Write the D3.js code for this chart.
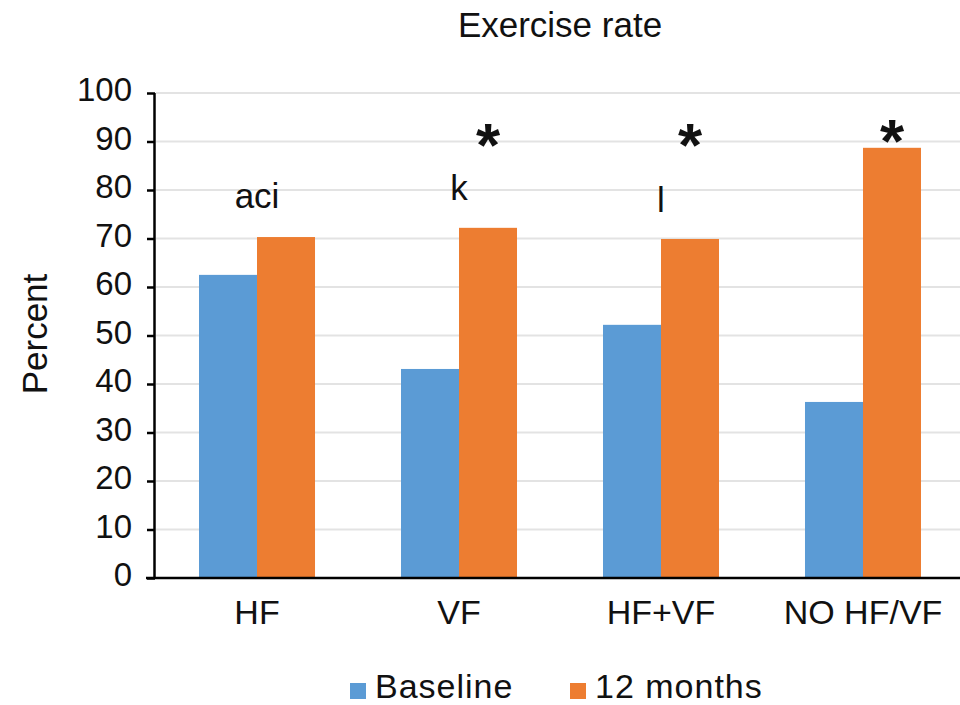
<!DOCTYPE html>
<html>
<head>
<meta charset="utf-8">
<script src="https://cdn.jsdelivr.net/npm/d3@7"></script>
<style>
  html, body { margin: 0; padding: 0; background: #fff; }
  svg { display: block; font-family: "Liberation Sans", Arial, sans-serif; }
</style>
</head>
<body>
<svg id="chart" width="960" height="705"></svg>
<script>
const categories = ["HF", "VF", "HF+VF", "NO HF/VF"];
const seriesNames = ["Baseline", "12 months"];
const baselineValues = [62.5, 43.1, 52.2, 36.3];
const monthsValues = [70.3, 72.2, 69.9, 88.7];
const yTicks = [0, 10, 20, 30, 40, 50, 60, 70, 80, 90, 100];
const letterNotes = [["HF", "aci"], ["VF", "k"], ["HF+VF", "l"]];
const starNotes = ["VF", "HF+VF", "NO HF/VF"];
const colors = ["#5b9bd5", "#ed7d31"];

const svg = d3.select("#chart");
const y = d3.scaleLinear().domain([0, 100]).range([578, 93]);
const x = d3.scaleBand().domain(categories).range([156, 964])
  .paddingInner(0.4257).paddingOuter(0.2129);
const x1 = d3.scaleBand().domain(seriesNames).range([0, x.bandwidth()]).padding(0);

const rows = categories.map((c, i) => ({cat: c, vals: [baselineValues[i], monthsValues[i]]}));

// gridlines
svg.append("g").selectAll("line").data(yTicks.filter(t => t > 0)).join("line")
  .attr("x1", 156).attr("x2", 960)
  .attr("y1", d => y(d)).attr("y2", d => y(d))
  .attr("stroke", "#e3e3e3").attr("stroke-width", 2);

// bars
svg.append("g").selectAll("g").data(rows).join("g")
  .attr("transform", d => `translate(${x(d.cat)},0)`)
  .selectAll("rect").data(d => d.vals.map((v, j) => ({s: seriesNames[j], v, j}))).join("rect")
  .attr("x", d => x1(d.s)).attr("width", x1.bandwidth())
  .attr("y", d => y(d.v)).attr("height", d => y(0) - y(d.v))
  .attr("fill", d => colors[d.j]);

// y axis
const yAxis = svg.append("g").attr("transform", "translate(155,0)")
  .call(d3.axisLeft(y).tickValues(yTicks).tickSize(8).tickPadding(15));
yAxis.select(".domain").attr("stroke", "#000").attr("stroke-width", 2.5)
  .attr("d", `M-0.5,${y(100)}V${y(0)}`);
yAxis.selectAll(".tick line").attr("stroke", "#000").attr("stroke-width", 2.5);
yAxis.selectAll(".tick text").attr("font-size", 33).attr("fill", "#111").attr("dy", "0.24em")
  .attr("font-family", "Liberation Sans, Arial, sans-serif");

// x axis
const xAxis = svg.append("g").attr("transform", `translate(0,${y(0)})`)
  .call(d3.axisBottom(x).tickSize(0).tickPadding(22));
xAxis.select(".domain").attr("stroke", "#000").attr("stroke-width", 2.5)
  .attr("d", "M146,0H960");
xAxis.selectAll(".tick text").attr("font-size", 34).attr("fill", "#111")
  .attr("font-family", "Liberation Sans, Arial, sans-serif");

// title
svg.append("text").attr("x", 560).attr("y", 37).attr("text-anchor", "middle")
  .attr("font-size", 35).attr("fill", "#111").text("Exercise rate");

// y label
svg.append("text").attr("transform", "translate(47,334) rotate(-90)")
  .attr("text-anchor", "middle").attr("font-size", 35).attr("fill", "#111").text("Percent");

// letter annotations
const letterY = {"aci": 208, "k": 200, "l": 212};
svg.append("g").selectAll("text").data(letterNotes).join("text")
  .attr("x", d => x(d[0]) + x.bandwidth() / 2)
  .attr("y", d => letterY[d[1]])
  .attr("text-anchor", "middle").attr("font-size", 35).attr("fill", "#111")
  .text(d => d[1]);

// star annotations
svg.append("g").selectAll("text").data(starNotes).join("text")
  .attr("x", d => x(d) + x1("12 months") + x1.bandwidth() / 2)
  .attr("y", d => d === "NO HF/VF" ? 162 : 166)
  .attr("text-anchor", "middle").attr("font-size", 62).attr("font-weight", "bold")
  .attr("fill", "#111").text("*");

// legend
const legend = svg.append("g");
const legX = [350, 570];
seriesNames.forEach((s, i) => {
  legend.append("rect").attr("x", legX[i]).attr("y", 683).attr("width", 16).attr("height", 16)
    .attr("fill", colors[i]);
  legend.append("text").attr("x", legX[i] + 25).attr("y", 698)
    .attr("font-size", 34).attr("letter-spacing", 1).attr("fill", "#111").text(s);
});
</script>
</body>
</html>
